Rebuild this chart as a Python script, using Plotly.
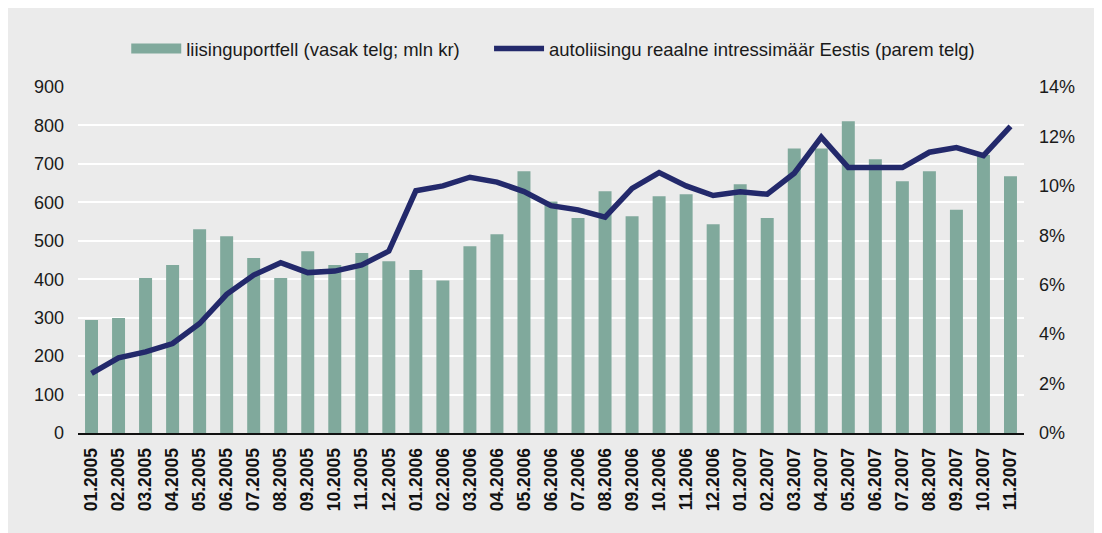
import plotly.graph_objects as go

months = ["01.2005","02.2005","03.2005","04.2005","05.2005","06.2005","07.2005","08.2005","09.2005","10.2005","11.2005","12.2005",
          "01.2006","02.2006","03.2006","04.2006","05.2006","06.2006","07.2006","08.2006","09.2006","10.2006","11.2006","12.2006",
          "01.2007","02.2007","03.2007","04.2007","05.2007","06.2007","07.2007","08.2007","09.2007","10.2007","11.2007"]

portfolio = [294, 299, 403, 437, 530, 512, 455, 403, 473, 437, 468, 447,
             424, 397, 486, 517, 681, 602, 559, 629, 564, 616, 621, 543,
             647, 559, 740, 740, 811, 712, 655, 681, 581, 723, 668]

rate = [2.41, 3.04, 3.28, 3.62, 4.43, 5.61, 6.39, 6.89, 6.49, 6.55, 6.80, 7.36,
        9.80, 10.00, 10.35, 10.15, 9.77, 9.20, 9.03, 8.73, 9.90, 10.54, 10.00, 9.61,
        9.76, 9.66, 10.51, 11.97, 10.74, 10.74, 10.74, 11.36, 11.55, 11.22, 12.41]

rate_frac = [r / 100 for r in rate]

BAR_NAME = "liisinguportfell (vasak telg; mln kr)"
LINE_NAME = "autoliisingu reaalne intressimäär Eestis (parem telg)"

BG = "#ebebeb"
BAR_COLOR = "#80a99c"
LINE_COLOR = "#23296b"
FONT = "Liberation Sans, Arial, sans-serif"

fig = go.Figure()
fig.add_trace(go.Bar(
    x=months, y=portfolio, name=BAR_NAME, showlegend=False, legendgroup="bar",
    marker=dict(color=BAR_COLOR, line=dict(width=0)), width=0.48,
))
# legend entry drawn as a wide rectangle, like the original
fig.add_trace(go.Scatter(
    x=[months[0]], y=[None], name=BAR_NAME, legendgroup="bar", legend="legend",
    mode="lines", line=dict(color=BAR_COLOR, width=12),
))
fig.add_trace(go.Scatter(
    x=months, y=rate_frac, name=LINE_NAME, legend="legend2",
    mode="lines", line=dict(color=LINE_COLOR, width=5.5), yaxis="y2",
))

legend_common = dict(orientation="h", xanchor="left", y=1.11, yanchor="middle",
                     font=dict(size=18.5), bgcolor="rgba(0,0,0,0)", itemwidth=50)

fig.update_layout(
    width=1102, height=533,
    paper_bgcolor=BG, plot_bgcolor=BG,
    margin=dict(l=70, r=86, t=79, b=108),
    font=dict(family=FONT, size=18, color="#1a1a1a"),
    showlegend=True,
    legend=dict(x=0.051, **legend_common),
    legend2=dict(x=0.4345, **legend_common),
    xaxis=dict(type="category", tickangle=-90,
               tickfont=dict(size=17.5, family=FONT, weight="bold", color="#111"),
               showgrid=False, showline=True, linecolor="#111", linewidth=2, ticks="",
               ticklabelstandoff=6, range=[-0.5, len(months) - 0.5]),
    yaxis=dict(range=[0, 900], dtick=100, showgrid=True, gridcolor="white", gridwidth=2,
               zeroline=False, ticks="", tickfont=dict(size=18), ticklabelstandoff=13),
    yaxis2=dict(range=[0, 0.14], dtick=0.02, tickformat=".0%", overlaying="y", side="right",
                showgrid=False, zeroline=False, ticks="", tickfont=dict(size=18), ticklabelstandoff=14),
    bargap=0.52,
)

fig.write_html("out.html")
